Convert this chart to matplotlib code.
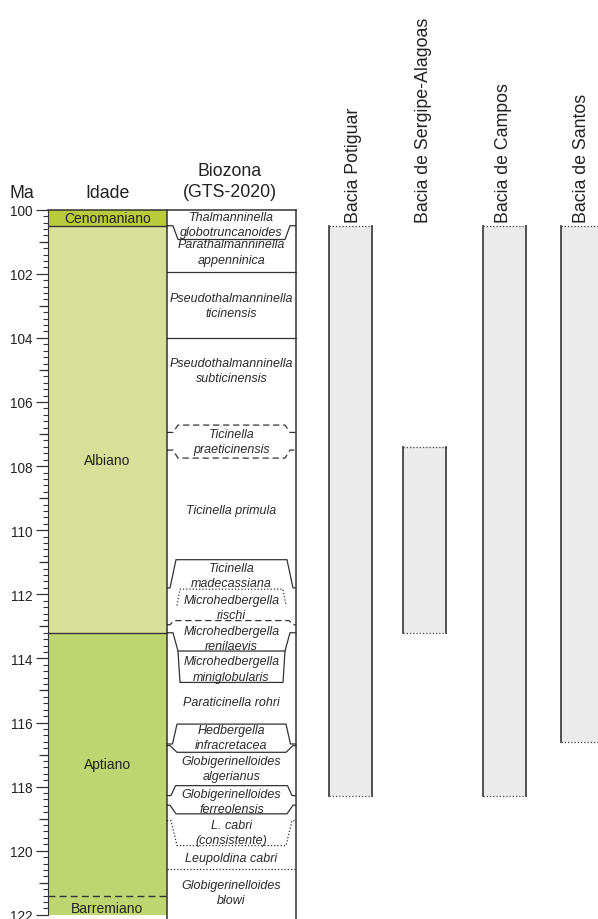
import numpy as np
import matplotlib
matplotlib.use("Agg")
import matplotlib.pyplot as plt

plt.rcParams['font.family'] = ['Liberation Sans', 'DejaVu Sans']

# --- data -------------------------------------------------------------
age_names = ["Cenomaniano", "Albiano", "Aptiano", "Barremiano"]
age_top = [100.0, 100.5, 113.2, 121.4]
age_base = [100.5, 113.2, 121.4, 122.0]
age_label_ma = [100.25, 107.8, 117.3, 121.8]
age_base_contact = ["solid", "solid", "dashed", None]

zone_names = [
    "Thalmanninella\nglobotruncanoides",
    "Parathalmanninella\nappenninica",
    "Pseudothalmanninella\nticinensis",
    "Pseudothalmanninella\nsubticinensis",
    "Ticinella\npraeticinensis",
    "Ticinella primula",
    "Ticinella\nmadecassiana",
    "Microhedbergella\nrischi",
    "Microhedbergella\nrenilaevis",
    "Microhedbergella\nminiglobularis",
    "Paraticinella rohri",
    "Hedbergella\ninfracretacea",
    "Globigerinelloides\nalgerianus",
    "Globigerinelloides\nferreolensis",
    "L. cabri\n(consistente)",
    "Leupoldina cabri",
    "Globigerinelloides\nblowi",
]
zone_label_ma = [100.46, 101.32, 103.0, 105.03, 107.22, 109.37, 111.41, 112.41,
                 113.38, 114.33, 115.36, 116.47, 117.43, 118.46, 119.43, 120.22, 121.3]

# zone contacts: age at the column border and age in the middle of the column
contact_edge_ma = [100.5, 101.95, 104.0, 106.95, 107.5, 111.8, 112.35, 112.95,
                   113.2, 113.77, 116.67, 116.72, 118.28, 118.58, 119.06, 120.57]
contact_inner_ma = [100.93, 101.95, 104.0, 106.72, 107.75, 110.92, 111.84, 112.82,
                    113.77, 114.75, 116.05, 116.93, 117.97, 118.85, 119.84, 120.57]
contact_type = ["solid", "solid", "solid", "dashed", "dashed", "solid", "dotted", "dashed",
                "solid", "solid", "solid", "solid", "solid", "solid", "dotted", "dotted"]

basins = ["Bacia Potiguar", "Bacia de Sergipe-Alagoas", "Bacia de Campos", "Bacia de Santos"]
basin_top = [100.5, 107.4, 100.5, 100.5]
basin_base = [118.3, 113.2, 118.3, 116.6]

# --- layout -----------------------------------------------------------
W, H = 598, 920
Y0_PX, PX_PER_MA = 210.7, 32.05
X_AXIS, X_MID, X_RIGHT = 48, 167, 296
# (inset at border, inset in middle, draw border feet)
contact_shape = [(6, 11, True), (0, 0, True), (0, 0, True), (6, 11, True), (6, 11, True),
                 (3, 9, True), (10, 13, False), (3, 7, True), (6, 11, True), (11, 13, False),
                 (5.5, 10, True), (3, 10, True), (4, 8.5, True), (3, 9, True), (4, 10, True),
                 (0, 0, True)]
age_colors = ["#b7cb3d", "#d6e099", "#bfd571", "#bfd571"]
basin_x = [350.5, 424, 504.5, 582.5]
basin_text_x = [354, 424, 504, 582]
BAR_W = 43
LINE = "#333333"
styles = {"solid": "-", "dashed": (0, (5, 3)), "dotted": (0, (1, 1.6))}

fig = plt.figure(figsize=(W / 100, H / 100), dpi=100)
ax = fig.add_axes([0, 0, 1, 1])
ax.set_xlim(0, W)
ax.set_ylim(100 + (H - Y0_PX) / PX_PER_MA, 100 - Y0_PX / PX_PER_MA)

# age column
mid_age = (X_AXIS + X_MID) / 2
for name, top, base, lab, col, contact in zip(age_names, age_top, age_base,
                                              age_label_ma, age_colors, age_base_contact):
    ax.bar(mid_age, base - top, bottom=top, width=X_MID - X_AXIS, color=col,
           edgecolor="none", zorder=1)
    ax.text(mid_age, lab, name, ha="center", va="center", fontsize=10, color="#222222")
    if contact and base < 122:
        ax.plot([X_AXIS, X_MID], [base, base], color=LINE, lw=1.0,
                linestyle=styles[contact], zorder=3)

# biozone column frame
ax.plot([X_AXIS, X_RIGHT], [100, 100], color=LINE, lw=1.1, zorder=3)
ax.plot([X_MID, X_MID], [100, 122.2], color=LINE, lw=1.1, zorder=3)
ax.plot([X_RIGHT, X_RIGHT], [100, 122.2], color=LINE, lw=1.1, zorder=3)

for edge, inner, kind, (a, b, feet) in zip(contact_edge_ma, contact_inner_ma,
                                           contact_type, contact_shape):
    if a == 0 and b == 0:
        xs, ys = [X_MID, X_RIGHT], [edge, edge]
    else:
        xs = [X_MID + a, X_MID + b, X_RIGHT - b, X_RIGHT - a]
        ys = [edge, inner, inner, edge]
        if feet:
            xs = [X_MID] + xs + [X_RIGHT]
            ys = [edge] + ys + [edge]
    ax.plot(xs, ys, color=LINE, lw=0.9, linestyle=styles[kind], zorder=3)

mid_zone = (X_MID + X_RIGHT) / 2
for name, lab in zip(zone_names, zone_label_ma):
    ax.text(mid_zone, lab, name, ha="center", va="center", fontsize=9,
            style="italic", color="#2a2a2a", linespacing=1.35, zorder=4)

# basin ranges
for xc, tx, name, top, base in zip(basin_x, basin_text_x, basins, basin_top, basin_base):
    ax.bar(xc, base - top, bottom=top, width=BAR_W, color="#ebebeb",
           edgecolor="none", zorder=1)
    for xe in (xc - BAR_W / 2, xc + BAR_W / 2):
        ax.plot([xe, xe], [top, base], color="#444444", lw=1.3, zorder=3)
    for ye in (top, base):
        ax.plot([xc - BAR_W / 2, xc + BAR_W / 2], [ye, ye], color="#444444",
                lw=0.9, linestyle=styles["dotted"], zorder=3)
    ax.text(tx, 100.38, name, rotation=90, ha="center", va="bottom",
            fontsize=12.8, color="#222222")

# headers
ax.text(22, 99.45, "Ma", ha="center", va="center", fontsize=12.8, color="#222222")
ax.text(mid_age, 99.45, "Idade", ha="center", va="center", fontsize=12.8, color="#222222")
ax.text(230, 99.1, "Biozona\n(GTS-2020)", ha="center", va="center", fontsize=12.8,
        color="#222222", linespacing=1.3)

# Ma scale
for s in ("top", "right", "bottom"):
    ax.spines[s].set_visible(False)
ax.spines["left"].set_position(("data", X_AXIS))
ax.spines["left"].set_bounds(100, 122)
ax.spines["left"].set_color(LINE)
ax.set_yticks(np.arange(100, 123, 2))
ax.set_yticks(np.arange(100, 122.01, 0.2), minor=True)
ax.tick_params(axis="y", which="major", direction="out", length=8.6, width=0.9,
               color=LINE, pad=2.8, labelsize=9.8, labelcolor="#222222")
ax.tick_params(axis="y", which="minor", direction="out", length=3.6, width=0.8, color=LINE)
ax.tick_params(axis="x", bottom=False, labelbottom=False)
odd = np.arange(101, 122, 2)
ax.hlines(odd, X_AXIS - 9, X_AXIS, color=LINE, lw=0.9)

fig.savefig("out.png", dpi=100)
